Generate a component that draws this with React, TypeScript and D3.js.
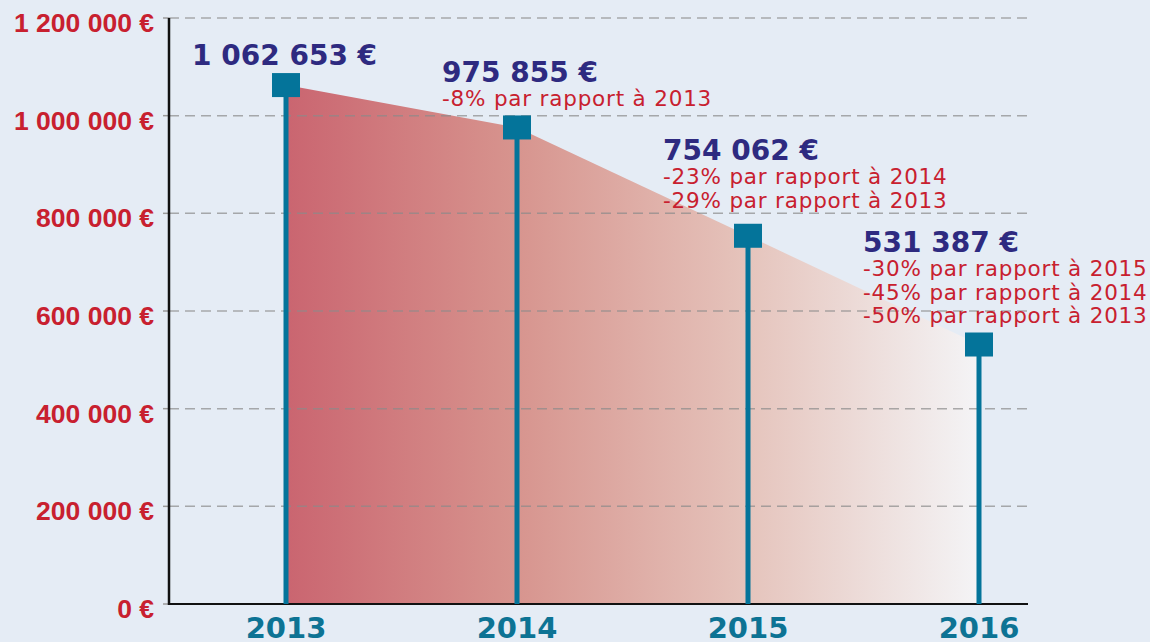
import React from "react";
import * as d3 from "d3";

const years = ["2013", "2014", "2015", "2016"];
const values = [1062653, 975855, 754062, 531387];
const valueLabels = ["1 062 653 €", "975 855 €", "754 062 €", "531 387 €"];
const comparisons: string[][] = [
  [],
  ["-8% par rapport à 2013"],
  ["-23% par rapport à 2014", "-29% par rapport à 2013"],
  ["-30% par rapport à 2015", "-45% par rapport à 2014", "-50% par rapport à 2013"],
];
const yTicks = [0, 200000, 400000, 600000, 800000, 1000000, 1200000];
const yTickLabels = ["0 €", "200 000 €", "400 000 €", "600 000 €", "800 000 €", "1 000 000 €", "1 200 000 €"];

// label placement (layout only): left x, value baseline
const labelPos = [
  { x: 192, y: 65 },
  { x: 442, y: 82 },
  { x: 663, y: 160 },
  { x: 863, y: 252 },
];

const W = 1150;
const H = 642;
const left = 169;
const right = 1028;
const top = 18;
const bottom = 604;

export default function App() {
  const y = d3.scaleLinear().domain([0, 1200000]).range([bottom, top]);
  const x = d3.scalePoint<string>().domain(years).range([286, 979]);

  const data = years.map((yr, i) => ({ yr, v: values[i] }));
  const area = d3
    .area<{ yr: string; v: number }>()
    .x((d) => x(d.yr)!)
    .y0(y(0))
    .y1((d) => y(d.v));

  const x0 = x(years[0])!;
  const x1 = x(years[years.length - 1])!;

  return (
    <svg
      width={W}
      height={H}
      style={{ position: "absolute", left: 0, top: 0, background: "#e5ecf5" }}
    >
      <defs>
        <linearGradient id="areaGrad" gradientUnits="userSpaceOnUse" x1={x0} x2={x1} y1={0} y2={0}>
          <stop offset="0" stopColor="#ca6570" />
          <stop offset="0.33" stopColor="#d7948e" />
          <stop offset="0.66" stopColor="#e5c3bb" />
          <stop offset="1" stopColor="#f4f4f6" />
        </linearGradient>
      </defs>
      <rect x={0} y={0} width={W} height={H} fill="#e5ecf5" />
      <path d={area(data) || ""} fill="url(#areaGrad)" />

      {yTicks.map((t, i) => (
        <g key={t}>
          {t > 0 && (
            <line
              x1={left}
              x2={right}
              y1={y(t)}
              y2={y(t)}
              stroke="#8a8a8a"
              strokeOpacity={0.7}
              strokeWidth={1.5}
              strokeDasharray="10 6"
            />
          )}
          <line x1={left - 6} x2={left} y1={y(t)} y2={y(t)} stroke="#9a9a9a" strokeWidth={1.5} />
          <text
            x={154}
            y={y(t) + 14}
            textAnchor="end"
            fill="#c8202f"
            fontFamily="'Liberation Sans', Arial, sans-serif"
            fontWeight="bold"
            fontSize={26.5}
          >
            {yTickLabels[i]}
          </text>
        </g>
      ))}

      <line x1={left} x2={left} y1={top} y2={bottom + 1} stroke="#111" strokeWidth={2.5} />
      <line x1={left} x2={right} y1={bottom} y2={bottom} stroke="#111" strokeWidth={2} />

      {data.map((d) => (
        <g key={d.yr}>
          <line
            x1={x(d.yr)}
            x2={x(d.yr)}
            y1={y(d.v)}
            y2={y(0)}
            stroke="#04749a"
            strokeWidth={5}
          />
          <rect x={x(d.yr)! - 14} y={y(d.v) - 12} width={28} height={24} fill="#04749a" />
          <text
            x={x(d.yr)}
            y={638}
            textAnchor="middle"
            fill="#0d7394"
            fontFamily="'DejaVu Sans', sans-serif"
            fontWeight="bold"
            fontSize={29}
          >
            {d.yr}
          </text>
        </g>
      ))}

      {labelPos.map((p, i) => (
        <g key={i}>
          <text
            x={p.x}
            y={p.y}
            fill="#2e2a80"
            fontFamily="'DejaVu Sans', sans-serif"
            fontWeight="bold"
            fontSize={28}
          >
            {valueLabels[i]}
          </text>
          {comparisons[i].map((c, j) => (
            <text
              key={j}
              x={p.x}
              y={p.y + 24 + j * 23.5}
              fill="#c8202f"
              fontFamily="'DejaVu Sans', sans-serif"
              fontSize={21.5}
              letterSpacing={0.8}
            >
              {c}
            </text>
          ))}
        </g>
      ))}
    </svg>
  );
}
